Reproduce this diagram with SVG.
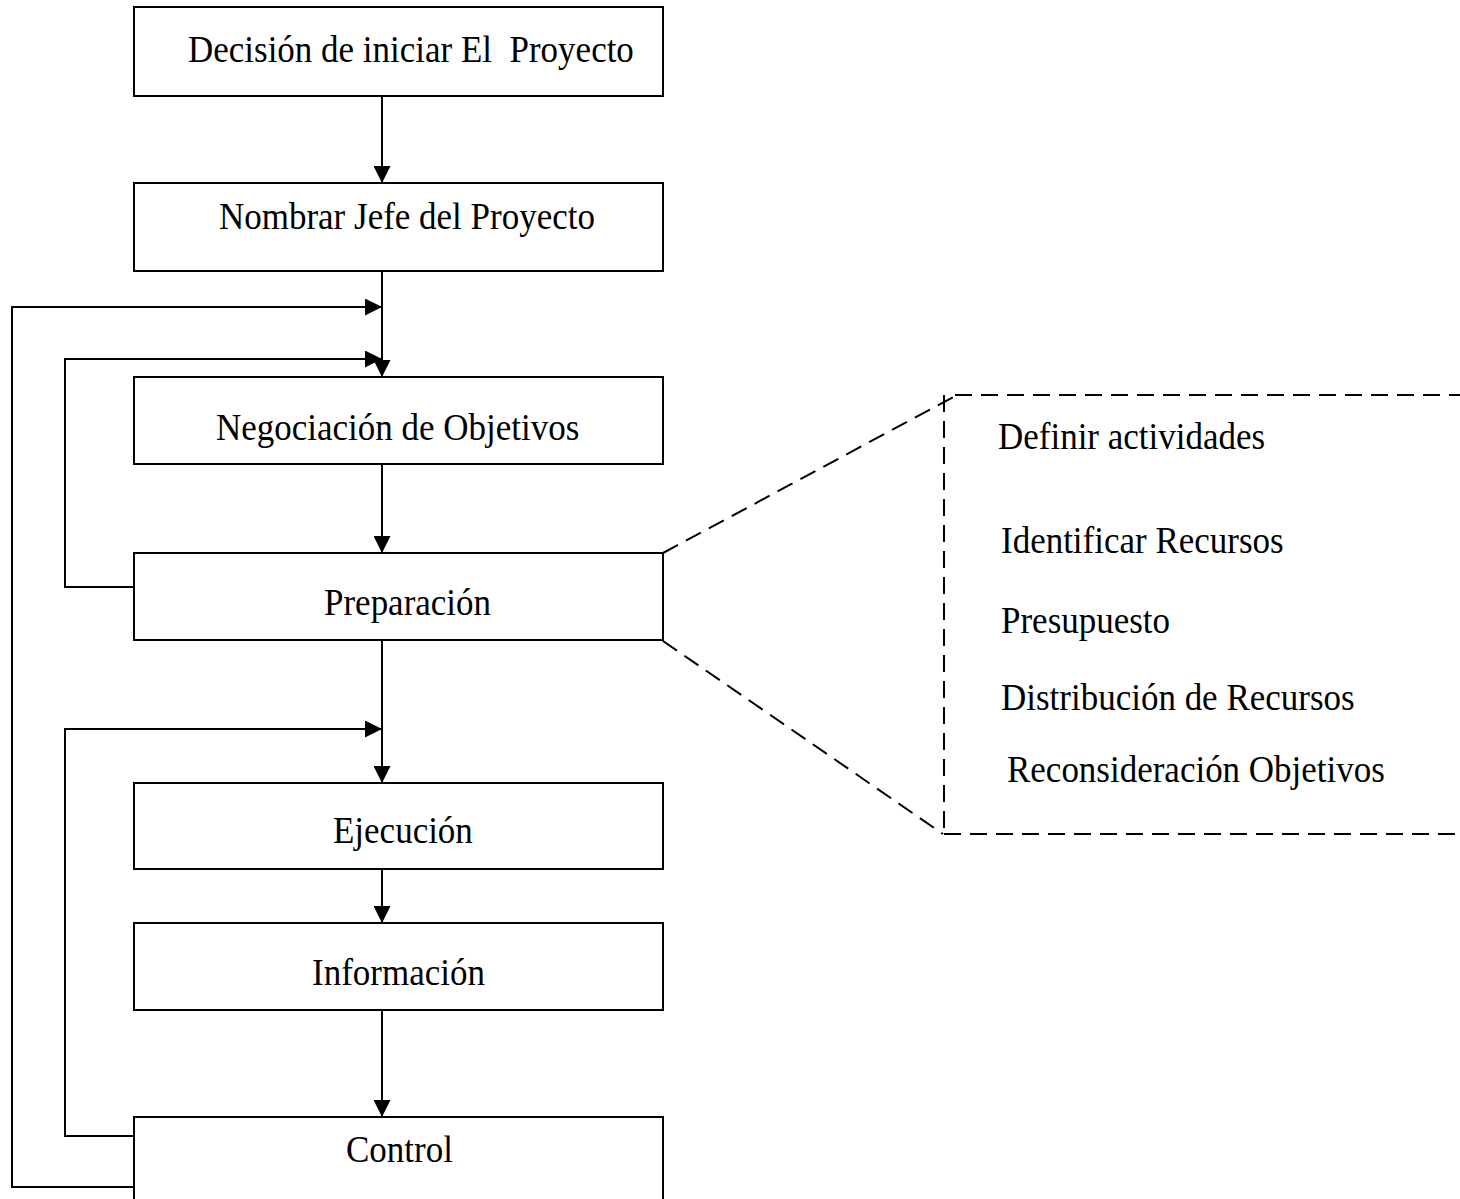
<svg xmlns="http://www.w3.org/2000/svg" width="1460" height="1199" viewBox="0 0 1460 1199">
  <style>
    .box { fill: #ffffff; stroke: #000000; stroke-width: 2; }
    .lbl { font-family: "Liberation Serif", "Times New Roman", serif; font-size: 35px; fill: #000000; white-space: pre; }
    .wire { fill: none; stroke: #000000; stroke-width: 2; }
    .dash { fill: none; stroke: #000000; stroke-width: 2; stroke-dasharray: 17 9; }
  </style>
  <defs>
    <marker id="arrow" viewBox="0 0 17 17" refX="17" refY="8.5" markerWidth="17" markerHeight="17" markerUnits="userSpaceOnUse" orient="auto">
      <path d="M0,0 L17,8.5 L0,17 Z" fill="#000000"/>
    </marker>
  </defs>
  <rect width="1460" height="1199" fill="#ffffff"/>

  <!-- connectors -->
  <g id="connectors">
    <line class="wire" x1="382" y1="96" x2="382" y2="183" marker-end="url(#arrow)"/>
    <line class="wire" x1="382" y1="271" x2="382" y2="377" marker-end="url(#arrow)"/>
    <polyline class="wire" points="134,1187 12,1187 12,307 382,307" marker-end="url(#arrow)"/>
    <polyline class="wire" points="134,587 65,587 65,359 382,359" marker-end="url(#arrow)"/>
    <line class="wire" x1="382" y1="464" x2="382" y2="553" marker-end="url(#arrow)"/>
    <line class="wire" x1="382" y1="640" x2="382" y2="783" marker-end="url(#arrow)"/>
    <polyline class="wire" points="134,1136 65,1136 65,729 382,729" marker-end="url(#arrow)"/>
    <line class="wire" x1="382" y1="869" x2="382" y2="923" marker-end="url(#arrow)"/>
    <line class="wire" x1="382" y1="1010" x2="382" y2="1117" marker-end="url(#arrow)"/>
    <!-- detail callout for Preparación -->
    <line class="dash" x1="663" y1="553" x2="957" y2="395"/>
    <line class="dash" x1="663" y1="641" x2="943" y2="834"/>
  </g>

  <g id="decision">
    <rect class="box" x="134" y="7" width="529" height="89"/>
    <text class="lbl" xml:space="preserve" transform="translate(188 62) scale(1 1.08)">Decisión de iniciar El  Proyecto</text>
  </g>
  <g id="nombrar">
    <rect class="box" x="134" y="183" width="529" height="88"/>
    <text class="lbl" transform="translate(219 229) scale(1 1.08)">Nombrar Jefe del Proyecto</text>
  </g>
  <g id="negociacion">
    <rect class="box" x="134" y="377" width="529" height="87"/>
    <text class="lbl" transform="translate(216 440) scale(1 1.08)">Negociación de Objetivos</text>
  </g>
  <g id="preparacion">
    <rect class="box" x="134" y="553" width="529" height="87"/>
    <text class="lbl" transform="translate(324 615) scale(1 1.08)">Preparación</text>
  </g>
  <g id="ejecucion">
    <rect class="box" x="134" y="783" width="529" height="86"/>
    <text class="lbl" transform="translate(333 843) scale(1 1.08)">Ejecución</text>
  </g>
  <g id="informacion">
    <rect class="box" x="134" y="923" width="529" height="87"/>
    <text class="lbl" transform="translate(312 985) scale(1 1.08)">Información</text>
  </g>
  <g id="control">
    <rect class="box" x="134" y="1117" width="529" height="100"/>
    <text class="lbl" transform="translate(346 1162) scale(1 1.08)">Control</text>
  </g>

  <g id="preparacion-detalle">
    <line class="dash" x1="944" y1="395" x2="944" y2="834"/>
    <line class="dash" x1="955" y1="395" x2="1460" y2="395"/>
    <line class="dash" x1="944" y1="834" x2="1460" y2="834"/>
    <text class="lbl" transform="translate(998 449) scale(1 1.08)">Definir actividades</text>
    <text class="lbl" transform="translate(1001 553) scale(1 1.08)">Identificar Recursos</text>
    <text class="lbl" transform="translate(1001 633) scale(1 1.08)">Presupuesto</text>
    <text class="lbl" transform="translate(1001 710) scale(1 1.08)">Distribución de Recursos</text>
    <text class="lbl" transform="translate(1007 782) scale(1 1.08)">Reconsideración Objetivos</text>
  </g>
</svg>
